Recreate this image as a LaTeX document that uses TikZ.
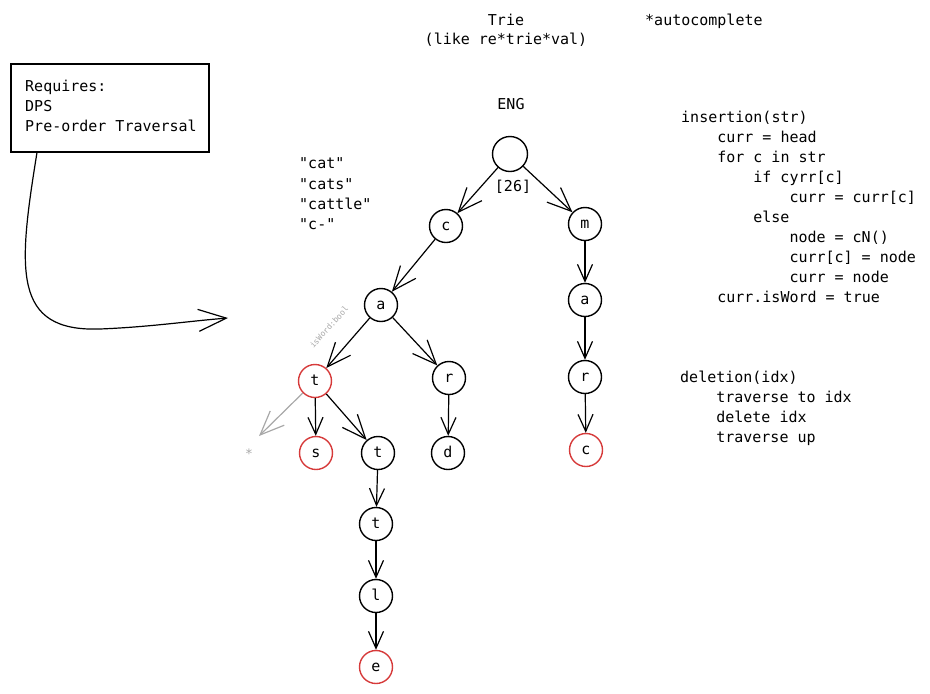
\documentclass[tikz,border=0pt]{standalone}
\usepackage{fontspec}
\setmonofont{DejaVu Sans Mono}
\usetikzlibrary{arrows.meta}
\definecolor{inkred}{HTML}{D63A3A}
\definecolor{inkgray}{HTML}{A8A8A8}
\begin{document}
\begin{tikzpicture}[x=1pt,y=-1pt,
  txt/.style={font=\ttfamily\fontsize{15}{20}\selectfont, inner sep=0pt, anchor=base west},
  ctxt/.style={txt, anchor=base},
  tnode/.style={circle, draw=black, line width=1.4pt, minimum size=33pt, inner sep=0pt,
    text height=8pt, text depth=0pt, font=\ttfamily\fontsize{15}{18}\selectfont},
  word/.style={tnode, draw=inkred},
  longedge/.style={line width=1.2pt, -{Straight Barb[length=24pt,width=20pt,line width=1.2pt]}},
  shortedge/.style={line width=1.2pt, -{Straight Barb[length=17pt,width=15pt,line width=1.2pt]}},
  frame/.style={draw=black, line width=1.5pt, inner sep=0pt, anchor=north west}
]
\useasboundingbox (0,0) rectangle (930,694);

% headings
\node[ctxt] (title) at (506,25) {Trie};
\node[ctxt] (subtitle) at (506,44) {(like re*trie*val)};
\node[txt] (auto) at (645,25) {*autocomplete};
\node[ctxt] (eng) at (511,109) {ENG};
\node[ctxt] (slots) at (513,191) {[26]};

% requirement box and its arrow
\node[frame, minimum width=198pt, minimum height=88pt] (req) at (10,63) {};
\node[txt] (req1) at (25,91) {Requires:};
\node[txt] (req2) at (25,111) {DPS};
\node[txt] (req3) at (25,131) {Pre-order Traversal};
\coordinate (reqend) at (228,318);
\draw[line width=1.2pt, -{Straight Barb[length=28pt,width=22pt,line width=1.2pt]}]
  ([xshift=27pt]req.south west) .. controls (18,270) and (12,332) .. (100,329)
  .. controls (150,327) and (190,321) .. (reqend);

% sample words
\node[txt] (w1) at (299,168) {"cat"};
\node[txt] (w2) at (299,189) {"cats"};
\node[txt] (w3) at (299,209) {"cattle"};
\node[txt] (w4) at (299,229) {"c-"};

% trie nodes
\node[tnode, minimum size=35pt] (root) at (510,154) {};
\node[tnode] (c1) at (446,226) {c};
\node[tnode] (m1) at (585,224) {m};
\node[tnode] (a1) at (381,305) {a};
\node[tnode] (a2) at (585,300) {a};
\node[word]  (t1) at (315,381) {t};
\node[tnode] (r1) at (449,378) {r};
\node[tnode] (r2) at (585,377) {r};
\node[word]  (s1) at (316,453) {s};
\node[tnode] (t2) at (378,453) {t};
\node[tnode] (d1) at (448,453) {d};
\node[word]  (c2) at (586,450) {c};
\node[tnode] (t3) at (376,524) {t};
\node[tnode] (l1) at (376,596) {l};
\node[word]  (e1) at (376,667) {e};

% trie edges
\draw[longedge] (root) -- (c1);
\draw[longedge] (root) -- (m1);
\draw[longedge] (c1) -- (a1);
\draw[shortedge] (m1) -- (a2);
\draw[longedge] (a1) -- (t1);
\draw[longedge] (a1) -- (r1);
\draw[shortedge] (a2) -- (r2);
\draw[shortedge] (t1) -- (s1);
\draw[longedge] (t1) -- (t2);
\draw[shortedge] (r1) -- (d1);
\draw[shortedge] (r2) -- (c2);
\draw[shortedge] (t2) -- (t3);
\draw[shortedge] (t3) -- (l1);
\draw[shortedge] (l1) -- (e1);

% word-end marker
\coordinate (gtip) at (259,436);
\draw[longedge, draw=inkgray] (t1) -- (gtip);
\node[font=\ttfamily\fontsize{13}{13}\selectfont, text=inkgray, inner sep=0pt] (star) at (249,454) {*};
\node[font=\ttfamily\fontsize{8}{8}\selectfont, text=inkgray, inner sep=0pt, rotate=48] (flag) at (329,327) {isWord:bool};

% insertion pseudo-code
\foreach \ind/\line [count=\i] in {0/{insertion(str)}, 1/{curr = head}, 1/{for c in str},
    2/{if cyrr[c]}, 3/{curr = curr[c]}, 2/{else}, 3/{node = cN()}, 3/{curr[c] = node},
    3/{curr = node}, 1/{curr.isWord = true}}
  \node[txt] (ins-\i) at ({681+36.1*\ind},{102+20*\i}) {\line};

% deletion pseudo-code
\foreach \ind/\line [count=\i] in {0/{deletion(idx)}, 1/{traverse to idx}, 1/{delete idx}, 1/{traverse up}}
  \node[txt] (del-\i) at ({680+36.1*\ind},{362+20*\i}) {\line};
\end{tikzpicture}
\end{document}
